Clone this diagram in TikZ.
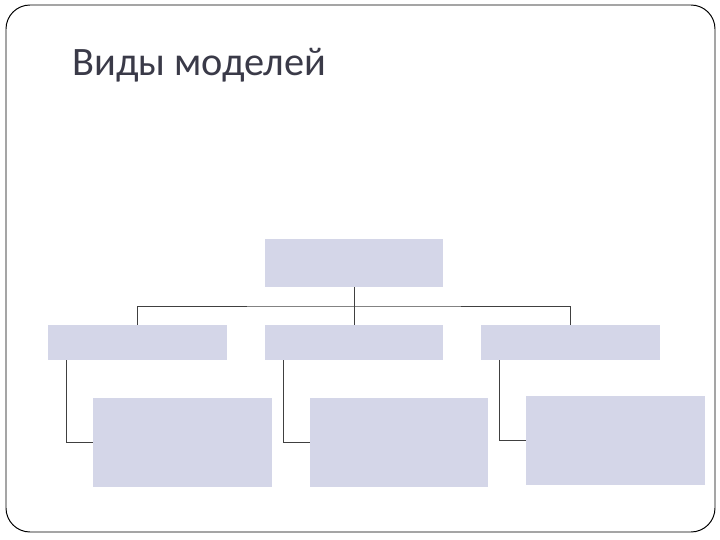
\documentclass[tikz,border=0pt]{standalone}
\usepackage{fontspec}
\setmainfont{Carlito}
\definecolor{boxfill}{HTML}{D4D6E8}
\definecolor{titlegray}{HTML}{3A3A48}
\definecolor{linegray}{HTML}{404040}
\tikzset{
  lbox/.style={fill=boxfill, inner sep=0pt},
  link/.style={draw=linegray, line width=0.7pt}
}
\begin{document}
\begin{tikzpicture}
      \useasboundingbox (0, 0) rectangle (18, 13.5);
      \draw [line width=0.7pt, rounded corners=0.6cm] (0.15, 0.2) rectangle (17.875, 13.375);
      \node (title) [anchor=base west, inner sep=0pt, text=titlegray, font=\fontsize{28.7}{34}\selectfont]
            at (1.8, 11.6) {Виды моделей};
      \node (top) [lbox, minimum width=4.45cm, minimum height=1.2cm] at (8.85, 6.925) {};
      \node (m1) [lbox, minimum width=4.475cm, minimum height=0.875cm] at (3.4375, 4.9375) {};
      \node (m2) [lbox, minimum width=4.45cm, minimum height=0.875cm] at (8.85, 4.9375) {};
      \node (m3) [lbox, minimum width=4.475cm, minimum height=0.875cm] at (14.2625, 4.9375) {};
      \node (l1) [lbox, minimum width=4.475cm, minimum height=2.225cm] at (4.5625, 2.4375) {};
      \node (l2) [lbox, minimum width=4.45cm, minimum height=2.225cm] at (9.975, 2.4375) {};
      \node (l3) [lbox, minimum width=4.475cm, minimum height=2.225cm] at (15.3875, 2.4875) {};
      \coordinate (bar) at (8.85, 5.85);
      \draw [link] (top.south) -- (bar)
                   (m1.north) |- (bar) -| (m3.north)
                   (bar) -- (m2.north);
      \draw [link] (m1.south west) ++(0.475, 0) |- (l1.west)
                   (m2.south west) ++(0.475, 0) |- (l2.west)
                   (m3.south west) ++(0.475, 0) |- (l3.west);
\end{tikzpicture}
\end{document}
